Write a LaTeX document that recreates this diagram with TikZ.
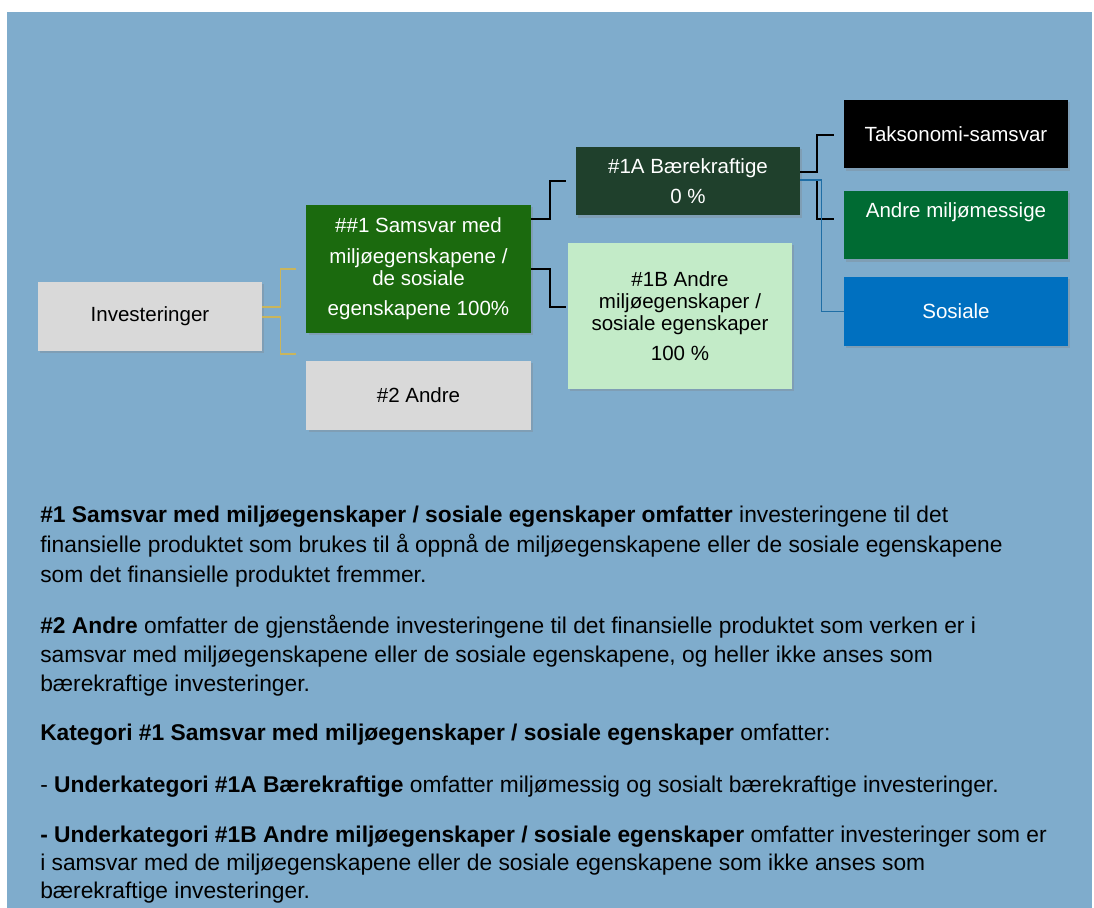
\documentclass[tikz,border=0pt]{standalone}
\usepackage{fontspec}
\setmainfont{Liberation Sans}
\usepackage{xcolor}
\definecolor{bakgrunn}{RGB}{127,172,204}
\definecolor{gralys}{RGB}{217,217,217}
\definecolor{gronnsam}{RGB}{27,106,14}
\definecolor{gronnmork}{RGB}{31,64,44}
\definecolor{gronnlys}{RGB}{195,235,200}
\definecolor{gronnmiljo}{RGB}{0,107,51}
\definecolor{blasos}{RGB}{0,112,192}
\definecolor{gull}{RGB}{201,181,92}
\definecolor{blalinje}{RGB}{31,110,165}
\usepackage{tikz}
\usetikzlibrary{positioning, shadows}
\newcommand{\Fet}[1]{\textbf{#1}}

\begin{document}
\begin{tikzpicture}[x=0.025cm, y=-0.025cm,
    boks/.style={minimum width=5.6cm, minimum height=1.72cm, align=center, inner sep=0pt,
        drop shadow={shadow xshift=1.5pt, shadow yshift=-1.5pt, opacity=0.3},
        font=\fontsize{14.6}{15.6}\selectfont},
    linje/.style={line width=1.4pt, black},
    brodtekst/.style={anchor=base west, inner sep=0pt, font=\fontsize{16.2}{18}\selectfont, text=black}]
    \useasboundingbox (0,0) rectangle (1094,908);
    % Bakgrunn
    \fill[bakgrunn] (7,12) rectangle (1092,908);
    % Boksene i treet
    \node[boks, fill=gralys] (inv) at (150,316.5) {Investeringer};
    \node[boks, fill=gronnsam, text=white, minimum height=3.2cm] (sam) at (418.5,269)
        {\#\#1 Samsvar med\\[6pt] miljøegenskapene /\\ de sosiale\\[6pt] egenskapene 100\%};
    \node[boks, fill=gralys] (andre) at (418.5,395.5) {\#2 Andre};
    \node[boks, fill=gronnmork, text=white] (baer) at (688,181) {\#1A Bærekraftige\\[6pt] 0 \%};
    \node[boks, fill=gronnlys, minimum height=3.65cm] (andreeg) at (680,316)
        {\#1B Andre\\ miljøegenskaper /\\ sosiale egenskaper\\[6pt] 100 \%};
    \node[boks, fill=black, text=white] (tax) at (956,134) {Taksonomi-samsvar};
    \node[boks, fill=gronnmiljo, text=white] (miljo) at (956,225) {Andre miljømessige\\[6pt] \mbox{}};
    \node[boks, fill=blasos, text=white] (sos) at (956,311.5) {Sosiale};
    % Linjer mellom boksene
    \draw[gull, line width=0.8pt] ([shift={(0,-9.5)}]inv.east) -- ++(18,0) |- ([shift={(-10,0)}]sam.west);
    \draw[gull, line width=0.8pt] ([shift={(0,0.5)}]inv.east) -- ++(18,0) |- ([shift={(-10,-41.5)}]andre.west);
    \draw[linje] ([shift={(0,-50)}]sam.east) -- ++(19,0) |- ([shift={(-10,0)}]baer.west);
    \draw[linje] (sam.east) -- ++(19,0) |- ([shift={(-2,-9)}]andreeg.west);
    \draw[linje] ([shift={(0,-9)}]baer.east) -- ++(17,0) |- ([shift={(-10,1)}]tax.west);
    \draw[linje] ([shift={(0,-1)}]baer.east) -- ++(17,0) |- ([shift={(-10,-6)}]miljo.west);
    \draw[blalinje, line width=1pt] ([shift={(0,-1)}]baer.east) -- ++(21,0) |- (sos.west);
    % Forklarende tekst under treet
    \node[brodtekst] (t1) at (40,522) {\Fet{\#1 Samsvar med miljøegenskaper / sosiale egenskaper omfatter} investeringene til det};
    \node[brodtekst] (t2) at (40,552) {finansielle produktet som brukes til å oppnå de miljøegenskapene eller de sosiale egenskapene};
    \node[brodtekst] (t3) at (40,582) {som det finansielle produktet fremmer.};
    \node[brodtekst] (t4) at (40,633) {\Fet{\#2 Andre} omfatter de gjenstående investeringene til det finansielle produktet som verken er i};
    \node[brodtekst] (t5) at (40,662) {samsvar med miljøegenskapene eller de sosiale egenskapene, og heller ikke anses som};
    \node[brodtekst] (t6) at (40,691) {bærekraftige investeringer.};
    \node[brodtekst] (t7) at (40,740) {\Fet{Kategori \#1 Samsvar med miljøegenskaper / sosiale egenskaper} omfatter:};
    \node[brodtekst] (t8) at (40,792) {- \Fet{Underkategori \#1A Bærekraftige} omfatter miljømessig og sosialt bærekraftige investeringer.};
    \node[brodtekst] (t9) at (40,842) {\Fet{- Underkategori \#1B Andre miljøegenskaper / sosiale egenskaper} omfatter investeringer som er};
    \node[brodtekst] (t10) at (40,870) {i samsvar med de miljøegenskapene eller de sosiale egenskapene som ikke anses som};
    \node[brodtekst] (t11) at (40,898) {bærekraftige investeringer.};
\end{tikzpicture}
\end{document}
